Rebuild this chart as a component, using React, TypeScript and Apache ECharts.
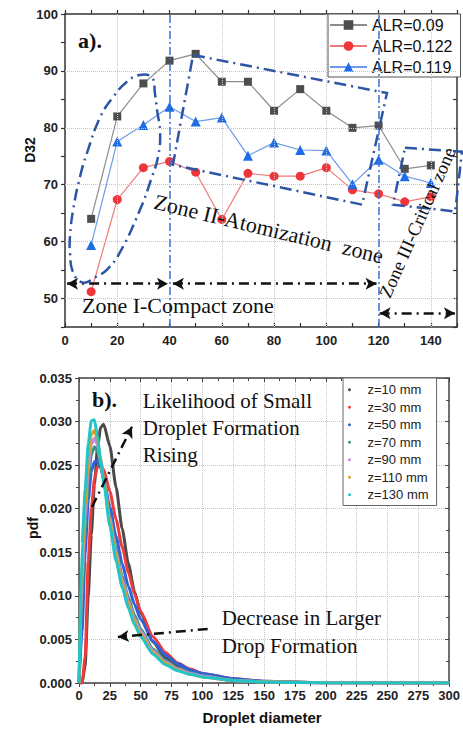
import React, { useEffect, useRef } from 'react';
import * as echarts from 'echarts';

// ---------- Chart a) data ----------
const distances = [10, 20, 30, 40, 50, 60, 70, 80, 90, 100, 110, 120, 130, 140];
const alr009 = [64.0, 82.0, 87.8, 91.8, 93.0, 88.1, 88.1, 83.0, 86.8, 83.0, 80.0, 80.4, 72.8, 73.4];
const alr0122 = [51.2, 67.4, 73.0, 74.1, 72.2, 63.9, 72.0, 71.5, 71.5, 73.0, 69.1, 68.4, 67.0, 67.9];
const alr0119 = [59.4, 77.6, 80.5, 83.7, 81.1, 81.8, 75.1, 77.4, 76.1, 76.0, 70.1, 74.4, 71.5, 70.3];
const alrNames = ['ALR=0.09', 'ALR=0.122', 'ALR=0.119'];
const gridLinesX = [20, 60, 80, 100, 140];
const gridLinesY = [50, 60, 70, 80, 90];
const zoneBounds = [40, 120];

// ---------- Chart b) data ----------
const diameters = [0, 2.5, 5, 7.5, 10, 12.5, 15, 17.5, 20, 25, 30, 35, 40, 45, 50, 60, 70, 80, 90, 100, 125, 150, 200, 250, 300];
const pdfZ10 = [0, 0, 0.002, 0.01, 0.017, 0.0228, 0.027, 0.0293, 0.0297, 0.0272, 0.0225, 0.0177, 0.0137, 0.0105, 0.008, 0.0047, 0.0029, 0.0019, 0.0012, 0.0008, 0.0003, 0.00012, 0.00002, 0, 0];
const pdfZ30 = [0, 0, 0.003, 0.014, 0.02, 0.0234, 0.0248, 0.025, 0.0245, 0.022, 0.0188, 0.0156, 0.0127, 0.0102, 0.0082, 0.0053, 0.0035, 0.0023, 0.0016, 0.0011, 0.0005, 0.0002, 0.00004, 0.00001, 0];
const pdfZ50 = [0, 0.006, 0.015, 0.021, 0.0243, 0.0254, 0.0255, 0.0247, 0.0235, 0.0202, 0.0168, 0.0137, 0.0111, 0.009, 0.0073, 0.0048, 0.0032, 0.0022, 0.0015, 0.0011, 0.0005, 0.0002, 0.00004, 0.00001, 0];
const pdfZ70 = [0, 0.01, 0.0175, 0.0232, 0.0262, 0.0271, 0.0266, 0.0251, 0.0233, 0.0191, 0.0154, 0.0123, 0.0098, 0.0078, 0.0062, 0.0039, 0.0026, 0.0017, 0.0012, 0.0008, 0.0003, 0.00014, 0.00003, 0, 0];
const pdfZ90 = [0, 0.012, 0.019, 0.0245, 0.0274, 0.0281, 0.0273, 0.0255, 0.0234, 0.0189, 0.015, 0.0119, 0.0094, 0.0074, 0.0059, 0.0037, 0.0024, 0.0016, 0.0011, 0.0008, 0.0003, 0.00014, 0.00002, 0, 0];
const pdfZ110 = [0, 0.014, 0.0205, 0.0258, 0.0285, 0.029, 0.0278, 0.0257, 0.0234, 0.0186, 0.0146, 0.0115, 0.0091, 0.0071, 0.0056, 0.0035, 0.0023, 0.0015, 0.001, 0.0007, 0.0003, 0.00013, 0.00002, 0, 0];
const pdfZ130 = [0, 0.016, 0.0222, 0.0275, 0.0301, 0.0302, 0.0283, 0.0256, 0.023, 0.018, 0.014, 0.011, 0.0086, 0.0067, 0.0053, 0.0033, 0.0021, 0.0014, 0.001, 0.0007, 0.0003, 0.00012, 0.00002, 0, 0];
const zNames = ['z=10 mm', 'z=30 mm', 'z=50 mm', 'z=70 mm', 'z=90 mm', 'z=110 mm', 'z=130 mm'];
const pdfSeries = [pdfZ10, pdfZ30, pdfZ50, pdfZ70, pdfZ90, pdfZ110, pdfZ130];
const zColors = ['#4a4a4a', '#ee3b3b', '#2f62d8', '#3b9486', '#c48ae6', '#d6a126', '#22c4c8'];

// ---------- annotation geometry (data coordinates) ----------
const zone1Loop = [
  [5.74, 71.4], [8.42, 75.6], [13.4, 81.8], [18.4, 85.4], [23.7, 88.1], [28.7, 89.3], [33.3, 88.8],
  [34.4, 86.1], [35.2, 83.2], [36.4, 79.1], [35.6, 74.9], [33.3, 71.4], [28.7, 65.6], [21.0, 58.1],
  [16.1, 55.1], [12.2, 53.9], [6.9, 52.8], [3.1, 54.6], [1.9, 58.1], [1.9, 60.9], [3.1, 65.6],
];
const zone2Box = [[49.0, 92.8], [123.2, 86.1], [113.7, 66.5], [41.3, 73.5]];
const zone3Box = [[130.1, 76.5], [151.9, 75.8], [149.3, 65.3], [125.5, 66.5]];

const FONT_SANS = '"Liberation Sans", Arial, sans-serif';
const FONT_SERIF = '"Liberation Serif", "Times New Roman", serif';

function axisLabelStyle(size: number) {
  return { fontSize: size, fontWeight: 'bold' as const, color: '#222', fontFamily: FONT_SANS };
}

function buildOption(): any {
  const axisLineA = { show: true, onZero: false, lineStyle: { color: '#333', width: 1.5 } };
  const axisLineB = { show: true, onZero: false, lineStyle: { color: '#444', width: 1.5 } };
  const dotted = { color: '#c4c4c4', type: 'dotted', width: 1 };
  const arrowLine = { color: '#111', width: 2.5, type: [10, 5, 2, 5] };

  const markA: any[] = [
    ...gridLinesX.map((v) => ({ xAxis: v, lineStyle: dotted })),
    ...gridLinesY.map((v) => ({ yAxis: v, lineStyle: dotted })),
    ...zoneBounds.map((v) => ({ xAxis: v, lineStyle: { color: '#3d6fd1', width: 1.5, type: [8, 3, 2, 3] } })),
    [
      { coord: [0.8, 52.6], symbol: 'arrow', symbolSize: [9, 11], lineStyle: arrowLine },
      { coord: [39.4, 52.6], symbol: 'arrow', symbolSize: [9, 11] },
    ],
    [
      { coord: [41.3, 52.6], symbol: 'arrow', symbolSize: [9, 11], lineStyle: arrowLine },
      { coord: [119.2, 52.6], symbol: 'arrow', symbolSize: [9, 11] },
    ],
    [
      { coord: [120.4, 47.4], symbol: 'arrow', symbolSize: [9, 11], lineStyle: arrowLine },
      { coord: [149.2, 47.4], symbol: 'arrow', symbolSize: [9, 11] },
    ],
  ];

  const markB: any[] = [
    [
      { coord: [10.5, 0.0202], symbol: 'none', lineStyle: arrowLine },
      { coord: [42.9, 0.0294], symbol: 'arrow', symbolSize: [9, 11] },
    ],
    [
      { coord: [104.3, 0.0062], symbol: 'none', lineStyle: arrowLine },
      { coord: [31.5, 0.00528], symbol: 'arrow', symbolSize: [9, 11] },
    ],
  ];

  const alrData = [alr009, alr0122, alr0119];
  const alrSymbols = ['rect', 'circle', 'triangle'];
  const alrSymbolSizes = [8, 9, 10];
  const alrItemColors = ['#4d4d4d', '#f0353a', '#1f6de6'];
  const alrLineColors = ['#8c8c8c', '#f07a7a', '#6b9be8'];

  return {
    animation: false,
    textStyle: { fontFamily: FONT_SANS },
    grid: [
      { left: 65, top: 14, width: 392, height: 313 },
      { left: 79, top: 378, width: 371, height: 305 },
    ],
    xAxis: [
      {
        type: 'value', gridIndex: 0, min: 0, max: 150, interval: 10, position: 'bottom',
        axisLine: axisLineA,
        axisTick: { show: true, inside: true, length: 4, lineStyle: { color: '#333', width: 1.2 } },
        axisLabel: { ...axisLabelStyle(13), margin: 7, formatter: (v: number) => (v % 20 === 0 ? String(v) : '') },
        splitLine: { show: false },
      },
      {
        type: 'value', gridIndex: 0, min: 0, max: 150, interval: 10, position: 'top',
        axisLine: axisLineA,
        axisTick: { show: true, inside: false, length: 4, lineStyle: { color: '#333', width: 1.2 } },
        axisLabel: { show: false },
        splitLine: { show: false },
      },
      {
        type: 'value', gridIndex: 1, min: 0, max: 300, interval: 25, position: 'bottom',
        axisLine: axisLineB,
        axisTick: { show: true, inside: false, length: 4, lineStyle: { color: '#444' } },
        minorTick: { show: true, splitNumber: 2, length: 3, lineStyle: { color: '#444' } },
        axisLabel: { ...axisLabelStyle(13), margin: 6 },
        splitLine: { show: true, lineStyle: dotted },
      },
      {
        type: 'value', gridIndex: 1, min: 0, max: 300, interval: 25, position: 'top',
        axisLine: axisLineB,
        axisTick: { show: true, inside: true, length: 4, lineStyle: { color: '#444' } },
        minorTick: { show: true, splitNumber: 2, length: 3, lineStyle: { color: '#444' } },
        axisLabel: { show: false },
        splitLine: { show: false },
      },
    ],
    yAxis: [
      {
        type: 'value', gridIndex: 0, min: 45, max: 100, interval: 5, position: 'left',
        axisLine: axisLineA,
        axisTick: { show: true, inside: false, length: 4, lineStyle: { color: '#333', width: 1.2 } },
        axisLabel: { ...axisLabelStyle(13), margin: 7, formatter: (v: number) => (v % 10 === 0 ? String(v) : '') },
        splitLine: { show: false },
      },
      {
        type: 'value', gridIndex: 0, min: 45, max: 100, interval: 5, position: 'right',
        axisLine: axisLineA,
        axisTick: { show: true, inside: true, length: 4, lineStyle: { color: '#333', width: 1.2 } },
        axisLabel: { show: false },
        splitLine: { show: false },
      },
      {
        type: 'value', gridIndex: 1, min: 0, max: 0.035, interval: 0.005, position: 'left',
        axisLine: axisLineB,
        axisTick: { show: true, inside: false, length: 4, lineStyle: { color: '#444' } },
        minorTick: { show: true, splitNumber: 2, length: 3, lineStyle: { color: '#444' } },
        axisLabel: { ...axisLabelStyle(13), margin: 7, formatter: (v: number) => v.toFixed(3) },
        splitLine: { show: true, lineStyle: dotted },
      },
      {
        type: 'value', gridIndex: 1, min: 0, max: 0.035, interval: 0.005, position: 'right',
        axisLine: axisLineB,
        axisTick: { show: true, inside: true, length: 4, lineStyle: { color: '#444' } },
        minorTick: { show: true, splitNumber: 2, length: 3, lineStyle: { color: '#444' } },
        axisLabel: { show: false },
        splitLine: { show: false },
      },
    ],
    legend: [
      {
        data: alrNames, orient: 'vertical', left: 328, top: 14,
        padding: [2, 8, 1, 1], itemGap: 3, itemWidth: 37, itemHeight: 12,
        textStyle: { fontSize: 16, lineHeight: 18, color: '#111', fontFamily: FONT_SANS },
        backgroundColor: '#fff', borderColor: '#555', borderWidth: 1, borderRadius: 0,
        selectedMode: false,
      },
      {
        data: zNames, orient: 'vertical', left: 343, top: 378,
        padding: [4, 8, 3, 5], itemGap: 2, itemWidth: 26, itemHeight: 3, icon: 'circle',
        textStyle: { fontSize: 13, lineHeight: 15.5, color: '#222', fontFamily: FONT_SANS },
        backgroundColor: '#fff', borderColor: '#666', borderWidth: 1, borderRadius: 0,
        selectedMode: false,
      },
    ],
    series: [
      {
        type: 'line', name: '_guidesA', xAxisIndex: 0, yAxisIndex: 0, data: [], silent: true, z: 1,
        markLine: { silent: true, symbol: 'none', label: { show: false }, data: markA, animation: false },
      },
      ...alrNames.map((name, k) => ({
        type: 'line', name, xAxisIndex: 0, yAxisIndex: 0, z: 3,
        data: distances.map((d, i) => [d, alrData[k][i]]),
        symbol: alrSymbols[k], symbolSize: alrSymbolSizes[k], showSymbol: true,
        itemStyle: { color: alrItemColors[k] },
        lineStyle: { color: alrLineColors[k], width: 1.2 },
      })),
      ...zNames.map((name, k) => ({
        type: 'line', name, xAxisIndex: 2, yAxisIndex: 2, z: 3,
        data: diameters.map((d, i) => [d, pdfSeries[k][i]]),
        showSymbol: false, symbol: 'circle', smooth: 0.2, smoothMonotone: 'x',
        itemStyle: { color: zColors[k] },
        lineStyle: { color: zColors[k], width: 3 },
      })),
      {
        type: 'line', name: '_guidesB', xAxisIndex: 2, yAxisIndex: 2, data: [], silent: true, z: 5,
        markLine: { silent: true, symbol: 'none', label: { show: false }, data: markB, animation: false },
      },
    ],
  };
}

export default function App() {
  const ref = useRef<HTMLDivElement>(null);
  useEffect(() => {
    document.body.style.margin = '0';
    const chart = echarts.init(ref.current as HTMLDivElement, null, { renderer: 'svg' });
    chart.setOption(buildOption());
    const pa = (p: number[]) => chart.convertToPixel({ gridIndex: 0 } as any, p) as unknown as number[];
    const pb = (p: number[]) => chart.convertToPixel({ gridIndex: 1 } as any, p) as unknown as number[];
    const zoneStyle = { fill: 'none', stroke: '#2d55a5', lineWidth: 2.5, lineDash: [12, 5, 2, 5] };
    const text = (pos: number[], str: string, font: string, rotation = 0, extra: any = {}) => ({
      type: 'text', x: pos[0], y: pos[1], rotation, z: 10,
      style: { text: str, font, fill: '#111', align: 'left', verticalAlign: 'middle', ...extra },
    });
    const elements: any[] = [
      { type: 'polygon', z: 8, shape: { points: zone1Loop.map(pa), smooth: 0.45 }, style: zoneStyle },
      { type: 'polygon', z: 8, shape: { points: zone2Box.map(pa) }, style: zoneStyle },
      { type: 'polygon', z: 8, shape: { points: zone3Box.map(pa) }, style: zoneStyle },
      text(pa([5.0, 95.4]), 'a).', `bold 22px ${FONT_SERIF}`),
      text(pa([6.5, 48.8]), 'Zone I-Compact zone', `22px ${FONT_SERIF}`),
      text(pa([34.25, 67.1]), 'Zone II-Atomization  zone', `22px ${FONT_SERIF}`, -0.236),
      text(pa([122.3, 50.3]), 'Zone III-Critical zone', `18.5px ${FONT_SERIF}`, 1.152),
      text(pb([10.5, 0.03248]), 'b).', `bold 22px ${FONT_SERIF}`),
      text(pb([51.75, 0.03391]), 'Likelihood of Small\nDroplet Formation\nRising', `21px ${FONT_SERIF}`, 0,
        { verticalAlign: 'top', lineHeight: 27 }),
      text(pb([115.6, 0.00907]), 'Decrease in Larger\nDrop Formation', `21px ${FONT_SERIF}`, 0,
        { verticalAlign: 'top', lineHeight: 28 }),
      {
        type: 'text', x: 30, y: 150, rotation: Math.PI / 2, z: 10,
        style: { text: 'D32', font: `bold 14px ${FONT_SANS}`, fill: '#111', align: 'center', verticalAlign: 'middle' },
      },
      {
        type: 'text', x: 33, y: 528, rotation: Math.PI / 2, z: 10,
        style: { text: 'pdf', font: `bold 14px ${FONT_SANS}`, fill: '#111', align: 'center', verticalAlign: 'middle' },
      },
      {
        type: 'text', x: 262, y: 717, z: 10,
        style: { text: 'Droplet diameter', font: `bold 15px ${FONT_SANS}`, fill: '#111', align: 'center', verticalAlign: 'middle' },
      },
    ];
    chart.setOption({ graphic: { elements } });
    return () => chart.dispose();
  }, []);
  return <div ref={ref} style={{ position: 'absolute', left: 0, top: 0, width: 463, height: 729 }} />;
}
